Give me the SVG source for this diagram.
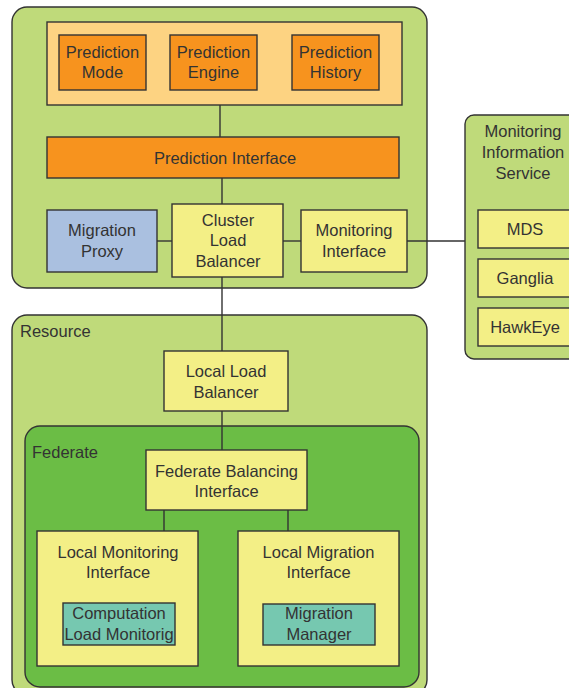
<svg xmlns="http://www.w3.org/2000/svg" width="569" height="688" viewBox="0 0 569 688">
  <style>
    text { font-family: "Liberation Sans", Arial, sans-serif; font-size: 16.5px; fill: #333333; text-anchor: middle; dominant-baseline: central; }
    .lbl { text-anchor: start; }
    rect { stroke: #333333; stroke-width: 1.4; }
    .outer { fill: #bfda7a; }
    .fed { fill: #6bbd45; }
    .yellow { fill: #f3ef86; }
    .orange { fill: #f7931e; }
    .lorange { fill: #fdd382; }
    .blue { fill: #aac0e0; }
    .teal { fill: #76c8b0; }
    .conn line { stroke: #333333; stroke-width: 1.4; }
  </style>

  <!-- containers -->
  <g id="cluster">
    <rect class="outer" x="12" y="7" width="415" height="281" rx="15"/>
  </g>
  <g id="mis">
    <rect class="outer" x="465" y="115" width="120" height="244" rx="9"/>
    <text x="523" y="131">Monitoring</text>
    <text x="523" y="152">Information</text>
    <text x="523" y="173">Service</text>
  </g>
  <g id="resource">
    <rect class="outer" x="12" y="315" width="415" height="380" rx="15"/>
    <text class="lbl" x="20" y="331">Resource</text>
  </g>
  <g id="federate">
    <rect class="fed" x="25" y="426" width="394" height="261" rx="15"/>
    <text class="lbl" x="32" y="452">Federate</text>
  </g>

  <!-- connectors -->
  <g class="conn" id="connectors">
    <line x1="220" y1="105" x2="220" y2="137"/>
    <line x1="222" y1="178" x2="222" y2="204"/>
    <line x1="157" y1="241" x2="172" y2="241"/>
    <line x1="283" y1="241" x2="301" y2="241"/>
    <line x1="407" y1="241" x2="465" y2="241"/>
    <line x1="222" y1="277" x2="222" y2="351"/>
    <line x1="222" y1="411" x2="222" y2="450"/>
    <line x1="164" y1="510" x2="164" y2="531"/>
    <line x1="288" y1="510" x2="288" y2="531"/>
  </g>

  <!-- prediction block -->
  <g id="prediction-group">
    <rect class="lorange" x="47" y="22" width="355" height="83"/>
  </g>
  <g id="prediction-mode">
    <rect class="orange" x="59" y="35" width="87" height="55"/>
    <text x="102.5" y="51.5">Prediction</text>
    <text x="102.5" y="72">Mode</text>
  </g>
  <g id="prediction-engine">
    <rect class="orange" x="170" y="35" width="87" height="55"/>
    <text x="213.5" y="51.5">Prediction</text>
    <text x="213.5" y="72">Engine</text>
  </g>
  <g id="prediction-history">
    <rect class="orange" x="292" y="35" width="87" height="55"/>
    <text x="335.5" y="51.5">Prediction</text>
    <text x="335.5" y="72">History</text>
  </g>
  <g id="prediction-interface">
    <rect class="orange" x="47" y="137" width="352" height="41"/>
    <text x="225" y="157.5">Prediction Interface</text>
  </g>

  <g id="migration-proxy">
    <rect class="blue" x="47" y="210" width="110" height="62"/>
    <text x="102" y="230">Migration</text>
    <text x="102" y="251">Proxy</text>
  </g>
  <g id="cluster-load-balancer">
    <rect class="yellow" x="172" y="204" width="111" height="73"/>
    <text x="228" y="219.5">Cluster</text>
    <text x="228" y="240">Load</text>
    <text x="228" y="261">Balancer</text>
  </g>
  <g id="monitoring-interface">
    <rect class="yellow" x="301" y="210" width="106" height="62"/>
    <text x="354" y="230">Monitoring</text>
    <text x="354" y="251">Interface</text>
  </g>

  <g id="mds">
    <rect class="yellow" x="478" y="210" width="100" height="38"/>
    <text x="525" y="229">MDS</text>
  </g>
  <g id="ganglia">
    <rect class="yellow" x="478" y="259" width="100" height="38"/>
    <text x="525" y="278">Ganglia</text>
  </g>
  <g id="hawkeye">
    <rect class="yellow" x="478" y="308" width="100" height="38"/>
    <text x="525" y="327">HawkEye</text>
  </g>

  <g id="local-load-balancer">
    <rect class="yellow" x="164" y="351" width="124" height="60"/>
    <text x="226" y="371">Local Load</text>
    <text x="226" y="392">Balancer</text>
  </g>
  <g id="federate-balancing-interface">
    <rect class="yellow" x="146" y="450" width="161" height="60"/>
    <text x="226.5" y="471">Federate Balancing</text>
    <text x="226.5" y="491">Interface</text>
  </g>
  <g id="local-monitoring-interface">
    <rect class="yellow" x="37" y="531" width="161" height="135"/>
    <text x="118" y="552">Local Monitoring</text>
    <text x="118" y="572">Interface</text>
  </g>
  <g id="computation-load-monitoring">
    <rect class="teal" x="63" y="603" width="112" height="42"/>
    <text x="119" y="613">Computation</text>
    <text x="119" y="634">Load Monitorig</text>
  </g>
  <g id="local-migration-interface">
    <rect class="yellow" x="238" y="531" width="161" height="135"/>
    <text x="318.5" y="552">Local Migration</text>
    <text x="318.5" y="572">Interface</text>
  </g>
  <g id="migration-manager">
    <rect class="teal" x="263" y="604" width="112" height="41"/>
    <text x="319" y="613">Migration</text>
    <text x="319" y="634">Manager</text>
  </g>
</svg>
